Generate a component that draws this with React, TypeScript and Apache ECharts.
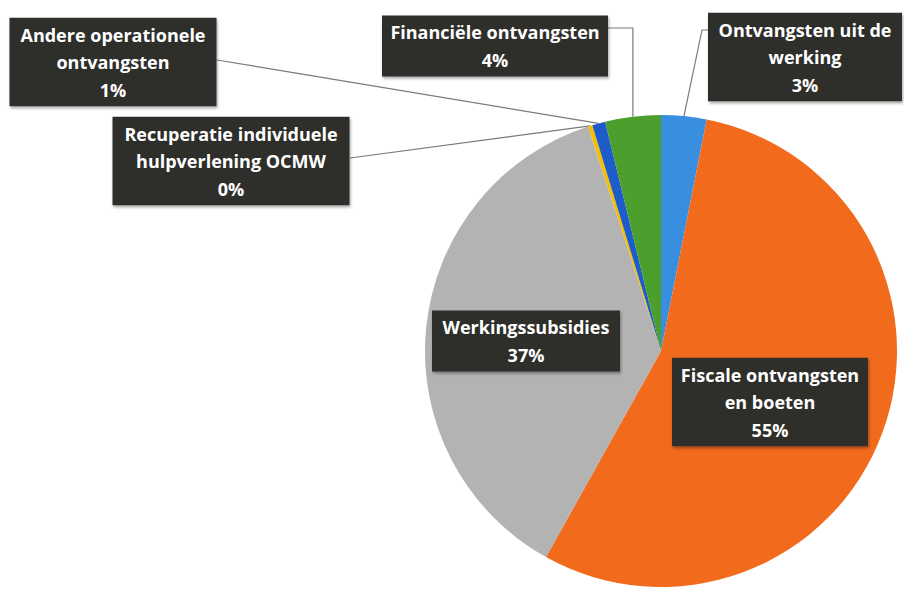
import React, { useEffect, useRef } from "react";
import * as echarts from "echarts";

const categories = [
  "Ontvangsten uit de\nwerking",
  "Fiscale ontvangsten\nen boeten",
  "Werkingssubsidies",
  "Recuperatie individuele\nhulpverlening OCMW",
  "Andere operationele\nontvangsten",
  "Financiële ontvangsten",
];
const values = [3.1, 55.0, 36.9, 0.3, 0.9, 3.8];
const colors = ["#3a8ee0", "#f26a1c", "#b3b3b3", "#f5bf00", "#1e5dc9", "#4c9f2c"];

// layout: label box centers, box widths and leader-line elbows (null = label inside, no line)
const labelCenters = [
  [805, 57],
  [770, 402],
  [526, 341],
  [231, 161],
  [113, 62],
  [495, 46],
];
const boxWidths = [194, 196, 188, 237, 207, 226];
const lineElbows: (any[][] | null)[] = [
  [[702, 30], [708, 30]],
  null,
  null,
  [[350, 158], [350, 158]],
  [[217, 60], [217, 60]],
  [["x", 28], [608, 28]],
];

export default function App() {
  const ref = useRef<HTMLDivElement>(null);
  useEffect(() => {
    const chart = echarts.init(ref.current!, null, { renderer: "svg" });
    const data = categories.map((name, i) => ({
      name,
      value: values[i],
      itemStyle: { color: colors[i] },
      label: { width: boxWidths[i] - 14 },
      labelLine: { show: lineElbows[i] !== null },
    }));
    chart.setOption({
      animation: false,
      backgroundColor: "#ffffff",
      series: [
        {
          type: "pie",
          center: [661, 351],
          radius: 236,
          startAngle: 90,
          clockwise: true,
          avoidLabelOverlap: false,
          percentPrecision: 0,
          data,
          itemStyle: { borderWidth: 0 },
          label: {
            show: true,
            position: "outside",
            formatter: "{b}\n{d}%",
            color: "#ffffff",
            fontFamily: "Open Sans",
            fontWeight: "bold",
            fontSize: 18,
            lineHeight: 27.5,
            align: "center",
            backgroundColor: "#2e2e2c",
            padding: [3, 7, 3, 7],
            shadowColor: "rgba(0,0,0,0.35)",
            shadowBlur: 3,
            shadowOffsetX: 1,
            shadowOffsetY: 2,
          },
          labelLine: {
            show: true,
            lineStyle: { color: "#7a7a7a", width: 1.2 },
          },
          labelLayout: (params: any) => {
            const i = params.dataIndex;
            const c = labelCenters[i];
            const res: any = { x: c[0], y: c[1], align: "center", verticalAlign: "middle" };
            const el = lineElbows[i];
            if (el && params.labelLinePoints) {
              const p0 = params.labelLinePoints[0];
              const pts = el.map((p) => [p[0] === "x" ? p0[0] : p[0], p[1]]);
              res.labelLinePoints = [p0, ...pts];
            }
            return res;
          },
        },
      ],
    });
    return () => chart.dispose();
  }, []);
  return (
    <div
      ref={ref}
      style={{ position: "fixed", left: 0, top: 0, width: 904, height: 591 }}
    />
  );
}
